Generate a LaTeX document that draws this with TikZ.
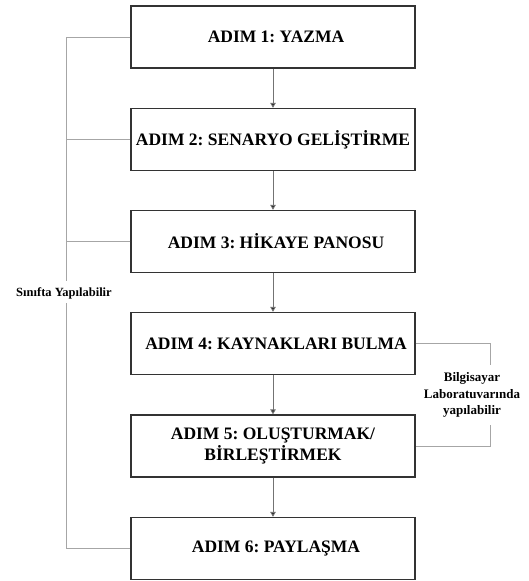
\documentclass[tikz,border=0pt]{standalone}
\usepackage{fontspec}
\setmainfont{Liberation Serif}
\usetikzlibrary{arrows.meta}
\frenchspacing
\begin{document}
\begin{tikzpicture}[x=1pt,y=-1pt,
  stepbox/.style={draw=black!80,line width=1.3pt,minimum width=284pt,minimum height=62pt,
    inner sep=0pt,align=center,font=\fontsize{17.5}{20.5}\selectfont\bfseries},
  sideline/.style={draw=black!35,line width=1pt},
  flow/.style={draw=black!55,line width=0.9pt,-{Triangle[length=5pt,width=5.5pt,fill=black!85]}},
  sidelabel/.style={align=center,font=\fontsize{13}{16.5}\selectfont\bfseries}]
\useasboundingbox (0,0) rectangle (529,581);
\node[stepbox] (b1) at (273,37) {\hspace*{6pt}ADIM 1: YAZMA};
\node[stepbox] (b2) at (273,139.5) {ADIM 2: SENARYO GELİŞTİRME};
\node[stepbox] (b3) at (273,241.5) {\hspace*{6pt}ADIM 3: HİKAYE PANOSU};
\node[stepbox] (b4) at (273,343.5) {\hspace*{6pt}ADIM 4: KAYNAKLARI BULMA};
\node[stepbox] (b5) at (273,446) {ADIM 5: OLUŞTURMAK/\\BİRLEŞTİRMEK};
\node[stepbox] (b6) at (273,548.5) {\hspace*{6pt}ADIM 6: PAYLAŞMA};
\node[sidelabel,font=\fontsize{12.5}{15}\selectfont\bfseries] (ls) at (64,293) {Sınıfta Yapılabilir};
\node[sidelabel] (lr) at (472,395) {Bilgisayar\\Laboratuvarında\\yapılabilir};
\coordinate (l1) at (66,281);
\coordinate (l2) at (66,303);
\coordinate (r1) at (490,365);
\coordinate (r2) at (490,425);
\draw[flow] (b1) -- (b2);
\draw[flow] (b2) -- (b3);
\draw[flow] (b3) -- (b4);
\draw[flow] (b4) -- (b5);
\draw[flow] (b5) -- (b6);
\draw[sideline] (b1.west) -| (l1);
\draw[sideline] (l2) |- (b6.west);
\draw[sideline] (b2.west) -- (b2.west -| l1);
\draw[sideline] (b3.west) -- (b3.west -| l1);
\draw[sideline] (b4.east) -| (r1);
\draw[sideline] (r2) |- (b5.east);
\end{tikzpicture}
\end{document}
